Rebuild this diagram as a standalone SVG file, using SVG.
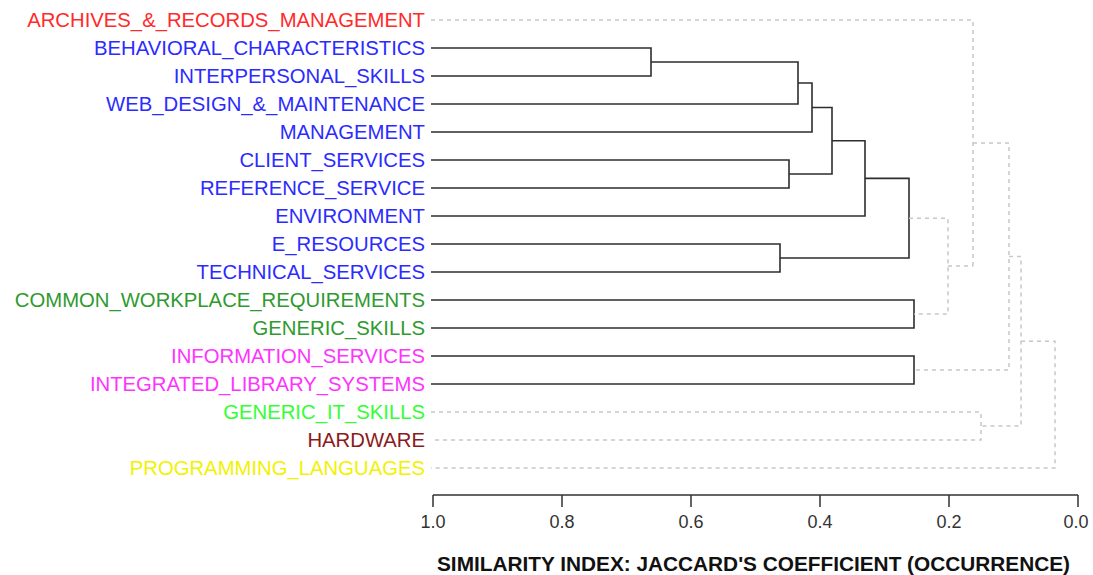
<svg xmlns="http://www.w3.org/2000/svg" width="1093" height="575" viewBox="0 0 1093 575">
<style>
text{font-family:"Liberation Sans",Arial,sans-serif}
.lbl{font-size:20.3px;text-anchor:end}
.tick{font-size:18px;text-anchor:middle;fill:#333}
.s{fill:none;stroke:#2e2e2e;stroke-width:1.6}
.d{fill:none;stroke:#c8c8c8;stroke-width:1.5;stroke-dasharray:4 4}
.ax{fill:none;stroke:#333;stroke-width:1.5}
</style>
<rect width="1093" height="575" fill="#fff"/>
<g id="labels">
<g id="n_archives"><text class="lbl" x="425" y="27" fill="#ff2a2a">ARCHIVES_&amp;_RECORDS_MANAGEMENT</text></g>
<g id="n_behavioral"><text class="lbl" x="425" y="55" fill="#2b2bff">BEHAVIORAL_CHARACTERISTICS</text></g>
<g id="n_interpersonal"><text class="lbl" x="425" y="83" fill="#2b2bff">INTERPERSONAL_SKILLS</text></g>
<g id="n_web"><text class="lbl" x="425" y="111" fill="#2b2bff">WEB_DESIGN_&amp;_MAINTENANCE</text></g>
<g id="n_management"><text class="lbl" x="425" y="139" fill="#2b2bff">MANAGEMENT</text></g>
<g id="n_client"><text class="lbl" x="425" y="167" fill="#2b2bff">CLIENT_SERVICES</text></g>
<g id="n_reference"><text class="lbl" x="425" y="195" fill="#2b2bff">REFERENCE_SERVICE</text></g>
<g id="n_environment"><text class="lbl" x="425" y="223" fill="#2b2bff">ENVIRONMENT</text></g>
<g id="n_eresources"><text class="lbl" x="425" y="251" fill="#2b2bff">E_RESOURCES</text></g>
<g id="n_technical"><text class="lbl" x="425" y="279" fill="#2b2bff">TECHNICAL_SERVICES</text></g>
<g id="n_common"><text class="lbl" x="425" y="307" fill="#2f9a2f">COMMON_WORKPLACE_REQUIREMENTS</text></g>
<g id="n_generic"><text class="lbl" x="425" y="335" fill="#2f9a2f">GENERIC_SKILLS</text></g>
<g id="n_information"><text class="lbl" x="425" y="363" fill="#ff33ff">INFORMATION_SERVICES</text></g>
<g id="n_ils"><text class="lbl" x="425" y="391" fill="#ff33ff">INTEGRATED_LIBRARY_SYSTEMS</text></g>
<g id="n_genericit"><text class="lbl" x="425" y="419" fill="#33ff33">GENERIC_IT_SKILLS</text></g>
<g id="n_hardware"><text class="lbl" x="425" y="447" fill="#8b1a1a">HARDWARE</text></g>
<g id="n_programming"><text class="lbl" x="425" y="475" fill="#f2f200">PROGRAMMING_LANGUAGES</text></g>
</g>
<g id="connectors">
<path class="s" d="M431 48H651V76H431 M651 62H798V104H431 M798 83H812V132H431 M812 107.5H832V174H789 M431 160H789V188H431 M832 140.75H865V216H431 M865 178.4H909V258H780 M431 244H780V272H431 M431 300H914V328H431 M431 356H914V384H431"/>
<path class="d" d="M909 218.2H948V314H914 M948 266.1H973 M431 20H973V266.1 M973 143H1009V370H914 M1009 256.5H1021V426H981 M431 412H981V440H431 M1021 341.25H1055V468H431"/>
</g>
<g id="axis">
<path class="ax" d="M433 495H1078 M433 495V507 M562 495V507 M691 495V507 M820 495V507 M949 495V507 M1078 495V507"/>
<text class="tick" x="433" y="528">1.0</text>
<text class="tick" x="562" y="528">0.8</text>
<text class="tick" x="691" y="528">0.6</text>
<text class="tick" x="820" y="528">0.4</text>
<text class="tick" x="949" y="528">0.2</text>
<text class="tick" x="1076" y="528">0.0</text>
<text x="437" y="571" font-size="20" font-weight="bold" fill="#111" textLength="633" lengthAdjust="spacingAndGlyphs">SIMILARITY INDEX: JACCARD'S COEFFICIENT (OCCURRENCE)</text>
</g>
</svg>
